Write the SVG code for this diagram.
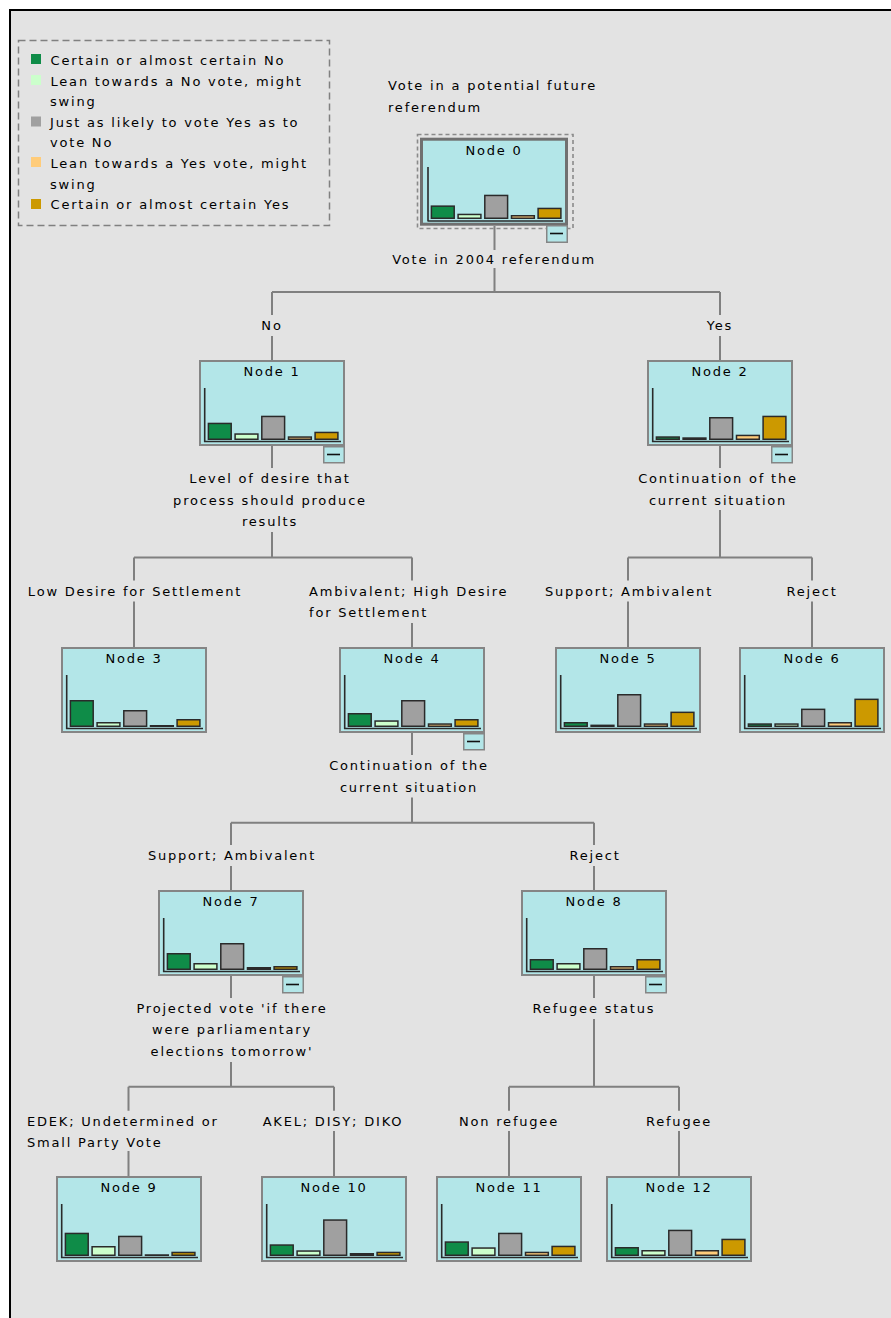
<svg xmlns="http://www.w3.org/2000/svg" width="891" height="1318" viewBox="0 0 891 1318">
<style>
.bg{fill:#e3e3e3;stroke:#000;stroke-width:2}
.box{fill:#b3e6e8;stroke:#858585;stroke-width:2}
.t{font-family:"DejaVu Sans",Verdana,sans-serif;font-size:13px;letter-spacing:1.8px;fill:#000}
.c{text-anchor:middle}
.ax{stroke:#2a2a2a;stroke-width:1.6;fill:none}
.b{stroke:#2a2a2a;stroke-width:1.5}
.b1{fill:#0f8c48}.b2{fill:#ccffcc}.b3{fill:#a0a0a0}.b4{fill:#ffcc7a}.b5{fill:#cc9900}
.ln{stroke:#808080;stroke-width:2;fill:none}
.btn{fill:#b3e6e8;stroke:#858585;stroke-width:1.5}
.dash{stroke:#111;stroke-width:1.6}
</style>
<rect class="bg" x="10" y="10" width="900" height="1320"/>

<g id="legend">
<rect x="18.5" y="40.5" width="311" height="185" fill="none" stroke="#808080" stroke-width="1.5" stroke-dasharray="7,4"/>
<rect class="b1" x="31" y="54" width="10" height="10"/>
<rect class="b2" x="31" y="75" width="10" height="10"/>
<rect class="b3" x="31" y="116.5" width="10" height="10"/>
<rect class="b4" x="31" y="157" width="10" height="10"/>
<rect class="b5" x="31" y="199" width="10" height="10"/>
<text class="t" x="50.5" y="65">Certain or almost certain No</text>
<text class="t" x="50.5" y="85.6">Lean towards a No vote, might</text>
<text class="t" x="50" y="106.2">swing</text>
<text class="t" x="50" y="126.8">Just as likely to vote Yes as to</text>
<text class="t" x="50" y="147.4">vote No</text>
<text class="t" x="50.5" y="168">Lean towards a Yes vote, might</text>
<text class="t" x="50" y="188.6">swing</text>
<text class="t" x="50.5" y="209.2">Certain or almost certain Yes</text>
</g>

<g id="connectors">
<path class="ln" d="M494.5,226V250M494.5,268V292M272,292H720M272,292V315M272,336V360M720,292V315M720,336V360"/>
<path class="ln" d="M272,446V468M272,532V557.6M134,557.6H412M134,557.6V580.6M134,601.6V647M412,557.6V580.6M412,623V647"/>
<path class="ln" d="M720,446V468M720,510V557.6M628,557.6H812M628,557.6V580.6M628,601.6V647M812,557.6V580.6M812,601.6V647"/>
<path class="ln" d="M412,733V755M412,797.6V822.7M231,822.7H594M231,822.7V845M231,866V890M594,822.7V845M594,866V890"/>
<path class="ln" d="M231,976V998M231,1062V1086.7M128.5,1086.7H334M128.5,1086.7V1110.7M128.5,1151V1176M334,1086.7V1110.7M334,1131V1176"/>
<path class="ln" d="M594,976V998M594,1019V1086.7M509,1086.7H679M509,1086.7V1110.7M509,1131V1176M679,1086.7V1110.7M679,1131V1176"/>
</g>

<g id="labels">
<text class="t" x="388" y="90">Vote in a potential future</text>
<text class="t" x="388" y="111.5">referendum</text>
<text class="t c" x="494" y="264">Vote in 2004 referendum</text>
<text class="t c" x="272" y="330">No</text>
<text class="t c" x="720" y="330">Yes</text>
<text class="t c" x="270" y="483">Level of desire that</text>
<text class="t c" x="270" y="504.6">process should produce</text>
<text class="t c" x="270" y="526.2">results</text>
<text class="t c" x="718" y="483">Continuation of the</text>
<text class="t c" x="718" y="504.6">current situation</text>
<text class="t c" x="135" y="595.6">Low Desire for Settlement</text>
<text class="t" x="309" y="595.6">Ambivalent; High Desire</text>
<text class="t" x="309" y="617.2">for Settlement</text>
<text class="t c" x="629" y="595.6">Support; Ambivalent</text>
<text class="t c" x="812" y="595.6">Reject</text>
<text class="t c" x="409" y="770">Continuation of the</text>
<text class="t c" x="409" y="791.6">current situation</text>
<text class="t c" x="232" y="860">Support; Ambivalent</text>
<text class="t c" x="595" y="860">Reject</text>
<text class="t c" x="232" y="1012.7">Projected vote 'if there</text>
<text class="t c" x="232" y="1034.3">were parliamentary</text>
<text class="t c" x="232" y="1055.9">elections tomorrow'</text>
<text class="t c" x="594" y="1012.7">Refugee status</text>
<text class="t" x="27" y="1125.7">EDEK; Undetermined or</text>
<text class="t" x="27" y="1147.3">Small Party Vote</text>
<text class="t c" x="333" y="1125.7">AKEL; DISY; DIKO</text>
<text class="t c" x="509" y="1125.7">Non refugee</text>
<text class="t c" x="679" y="1125.7">Refugee</text>
</g>

<g id="node0">
<rect x="417.5" y="134.5" width="155.5" height="94" fill="none" stroke="#8a8a8a" stroke-width="1.6" stroke-dasharray="4,3"/>
<rect x="421.5" y="139.2" width="145" height="85" fill="#b3e6e8" stroke="#707070" stroke-width="3"/>
<g transform="translate(422,139)">
<text class="t c" x="72" y="16">Node 0</text>
<path class="ax" d="M6,28V82.5M6,82H141"/>
<rect class="b b1" x="9.4" y="67.15" width="22.8" height="12.1"/>
<rect class="b b2" x="36.1" y="75.45" width="22.8" height="3.8"/>
<rect class="b b3" x="62.8" y="56.45" width="22.8" height="22.8"/>
<rect class="b b4" x="89.5" y="76.75" width="22.8" height="2.5"/>
<rect class="b b5" x="116.1" y="69.45" width="22.8" height="9.8"/>
</g>
<rect class="btn" x="546.75" y="225.75" width="20.5" height="16.5"/>
<line class="dash" x1="550" y1="233.5" x2="563" y2="233.5"/>
</g>

<g id="node1" transform="translate(199,360)">
<rect class="box" x="1" y="1" width="144" height="84"/>
<text class="t c" x="73" y="16">Node 1</text>
<path class="ax" d="M5.7,28V82.2M5.7,81.5H142"/>
<rect class="b b1" x="9.4" y="63.45" width="22.8" height="15.8"/>
<rect class="b b2" x="36.1" y="74.05" width="22.8" height="5.2"/>
<rect class="b b3" x="62.8" y="56.45" width="22.8" height="22.8"/>
<rect class="b b4" x="89.5" y="77.05" width="22.8" height="2.2"/>
<rect class="b b5" x="116.1" y="72.45" width="22.8" height="6.8"/>
<rect class="btn" x="124.75" y="86.75" width="20.5" height="16"/>
<line class="dash" x1="128" y1="94.5" x2="141" y2="94.5"/>
</g>

<g id="node2" transform="translate(647,360)">
<rect class="box" x="1" y="1" width="144" height="84"/>
<text class="t c" x="73" y="16">Node 2</text>
<path class="ax" d="M5.7,28V82.2M5.7,81.5H142"/>
<rect class="b b1" x="9.4" y="77.05" width="22.8" height="2.2"/>
<rect class="b b2" x="36.1" y="78.05" width="22.8" height="1.2"/>
<rect class="b b3" x="62.8" y="57.75" width="22.8" height="21.5"/>
<rect class="b b4" x="89.5" y="75.45" width="22.8" height="3.8"/>
<rect class="b b5" x="116.1" y="56.45" width="22.8" height="22.8"/>
<rect class="btn" x="124.75" y="86.75" width="20.5" height="16"/>
<line class="dash" x1="128" y1="94.5" x2="141" y2="94.5"/>
</g>

<g id="node3" transform="translate(61,647)">
<rect class="box" x="1" y="1" width="144" height="84"/>
<text class="t c" x="73" y="16">Node 3</text>
<path class="ax" d="M5.7,28V82.2M5.7,81.5H142"/>
<rect class="b b1" x="9.4" y="53.75" width="22.8" height="25.5"/>
<rect class="b b2" x="36.1" y="75.75" width="22.8" height="3.5"/>
<rect class="b b3" x="62.8" y="63.75" width="22.8" height="15.5"/>
<rect class="b b4" x="89.5" y="78.75" width="22.8" height="0.5"/>
<rect class="b b5" x="116.1" y="72.75" width="22.8" height="6.5"/>
</g>

<g id="node4" transform="translate(339,647)">
<rect class="box" x="1" y="1" width="144" height="84"/>
<text class="t c" x="73" y="16">Node 4</text>
<path class="ax" d="M5.7,28V82.2M5.7,81.5H142"/>
<rect class="b b1" x="9.4" y="66.75" width="22.8" height="12.5"/>
<rect class="b b2" x="36.1" y="74.05" width="22.8" height="5.2"/>
<rect class="b b3" x="62.8" y="53.75" width="22.8" height="25.5"/>
<rect class="b b4" x="89.5" y="77.05" width="22.8" height="2.2"/>
<rect class="b b5" x="116.1" y="72.75" width="22.8" height="6.5"/>
<rect class="btn" x="124.75" y="86.75" width="20.5" height="16"/>
<line class="dash" x1="128" y1="94.5" x2="141" y2="94.5"/>
</g>

<g id="node5" transform="translate(555,647)">
<rect class="box" x="1" y="1" width="144" height="84"/>
<text class="t c" x="73" y="16">Node 5</text>
<path class="ax" d="M5.7,28V82.2M5.7,81.5H142"/>
<rect class="b b1" x="9.4" y="75.75" width="22.8" height="3.5"/>
<rect class="b b2" x="36.1" y="78.35" width="22.8" height="0.9"/>
<rect class="b b3" x="62.8" y="47.75" width="22.8" height="31.5"/>
<rect class="b b4" x="89.5" y="77.05" width="22.8" height="2.2"/>
<rect class="b b5" x="116.1" y="65.35" width="22.8" height="13.9"/>
</g>

<g id="node6" transform="translate(739,647)">
<rect class="box" x="1" y="1" width="144" height="84"/>
<text class="t c" x="73" y="16">Node 6</text>
<path class="ax" d="M5.7,28V82.2M5.7,81.5H142"/>
<rect class="b b1" x="9.4" y="77.05" width="22.8" height="2.2"/>
<rect class="b b2" x="36.1" y="77.05" width="22.8" height="2.2"/>
<rect class="b b3" x="62.8" y="62.35" width="22.8" height="16.9"/>
<rect class="b b4" x="89.5" y="75.75" width="22.8" height="3.5"/>
<rect class="b b5" x="116.1" y="52.35" width="22.8" height="26.9"/>
</g>

<g id="node7" transform="translate(158,890)">
<rect class="box" x="1" y="1" width="144" height="84"/>
<text class="t c" x="73" y="16">Node 7</text>
<path class="ax" d="M5.7,28V82.2M5.7,81.5H142"/>
<rect class="b b1" x="9.4" y="63.75" width="22.8" height="15.5"/>
<rect class="b b2" x="36.1" y="73.75" width="22.8" height="5.5"/>
<rect class="b b3" x="62.8" y="53.75" width="22.8" height="25.5"/>
<rect class="b b4" x="89.5" y="77.75" width="22.8" height="1.5"/>
<rect class="b b5" x="116.1" y="76.75" width="22.8" height="2.5"/>
<rect class="btn" x="124.75" y="86.75" width="20.5" height="16"/>
<line class="dash" x1="128" y1="94.5" x2="141" y2="94.5"/>
</g>

<g id="node8" transform="translate(521,890)">
<rect class="box" x="1" y="1" width="144" height="84"/>
<text class="t c" x="73" y="16">Node 8</text>
<path class="ax" d="M5.7,28V82.2M5.7,81.5H142"/>
<rect class="b b1" x="9.4" y="69.75" width="22.8" height="9.5"/>
<rect class="b b2" x="36.1" y="73.75" width="22.8" height="5.5"/>
<rect class="b b3" x="62.8" y="58.75" width="22.8" height="20.5"/>
<rect class="b b4" x="89.5" y="76.75" width="22.8" height="2.5"/>
<rect class="b b5" x="116.1" y="69.75" width="22.8" height="9.5"/>
<rect class="btn" x="124.75" y="86.75" width="20.5" height="16"/>
<line class="dash" x1="128" y1="94.5" x2="141" y2="94.5"/>
</g>

<g id="node9" transform="translate(56,1176)">
<rect class="box" x="1" y="1" width="144" height="84"/>
<text class="t c" x="73" y="16">Node 9</text>
<path class="ax" d="M5.7,28V82.2M5.7,81.5H142"/>
<rect class="b b1" x="9.4" y="57.45" width="22.8" height="21.8"/>
<rect class="b b2" x="36.1" y="70.75" width="22.8" height="8.5"/>
<rect class="b b3" x="62.8" y="60.45" width="22.8" height="18.8"/>
<rect class="b b4" x="89.5" y="79" width="22.8" height="0.3"/>
<rect class="b b5" x="116.1" y="76.45" width="22.8" height="2.8"/>
</g>

<g id="node10" transform="translate(261,1176)">
<rect class="box" x="1" y="1" width="144" height="84"/>
<text class="t c" x="73" y="16">Node 10</text>
<path class="ax" d="M5.7,28V82.2M5.7,81.5H142"/>
<rect class="b b1" x="9.4" y="69.05" width="22.8" height="10.2"/>
<rect class="b b2" x="36.1" y="75.05" width="22.8" height="4.2"/>
<rect class="b b3" x="62.8" y="44.05" width="22.8" height="35.2"/>
<rect class="b b4" x="89.5" y="77.75" width="22.8" height="1.5"/>
<rect class="b b5" x="116.1" y="76.45" width="22.8" height="2.8"/>
</g>

<g id="node11" transform="translate(436,1176)">
<rect class="box" x="1" y="1" width="144" height="84"/>
<text class="t c" x="73" y="16">Node 11</text>
<path class="ax" d="M5.7,28V82.2M5.7,81.5H142"/>
<rect class="b b1" x="9.4" y="66.05" width="22.8" height="13.2"/>
<rect class="b b2" x="36.1" y="72.05" width="22.8" height="7.2"/>
<rect class="b b3" x="62.8" y="57.45" width="22.8" height="21.8"/>
<rect class="b b4" x="89.5" y="76.45" width="22.8" height="2.8"/>
<rect class="b b5" x="116.1" y="70.45" width="22.8" height="8.8"/>
</g>

<g id="node12" transform="translate(606,1176)">
<rect class="box" x="1" y="1" width="144" height="84"/>
<text class="t c" x="73" y="16">Node 12</text>
<path class="ax" d="M5.7,28V82.2M5.7,81.5H142"/>
<rect class="b b1" x="9.4" y="71.75" width="22.8" height="7.5"/>
<rect class="b b2" x="36.1" y="74.75" width="22.8" height="4.5"/>
<rect class="b b3" x="62.8" y="54.45" width="22.8" height="24.8"/>
<rect class="b b4" x="89.5" y="74.75" width="22.8" height="4.5"/>
<rect class="b b5" x="116.1" y="63.45" width="22.8" height="15.8"/>
</g>
</svg>
